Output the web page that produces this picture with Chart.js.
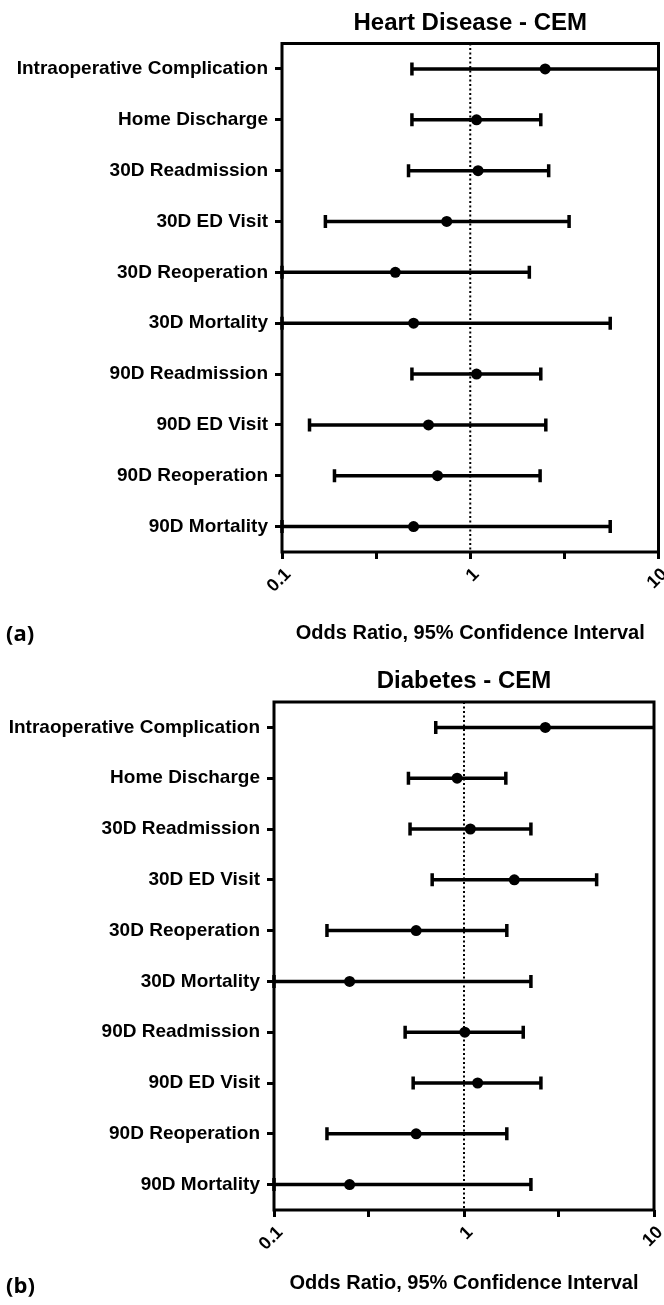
<!DOCTYPE html>
<html>
<head>
<meta charset="utf-8">
<script src="https://cdn.jsdelivr.net/npm/chart.js@4.4.1/dist/chart.umd.min.js"></script>
<style>
  body { margin: 0; background: #fff; }
  #wrap { position: relative; width: 664px; height: 1305px; }
  canvas { position: absolute; left: 0; }
  .panel { position: absolute; left: 6px; font: bold 22px 'Open Sans', sans-serif; line-height: 30px; color: #000; }
</style>
</head>
<body>
<div id="wrap">
  <canvas id="heartChart" width="664" height="655" style="top:0"></canvas>
  <canvas id="diabChart" width="664" height="650" style="top:655px"></canvas>
  <div class="panel" style="top:617px">(a)</div>
  <div class="panel" style="top:1269px">(b)</div>
</div>
<script>
const categories = [
  'Intraoperative Complication', 'Home Discharge', '30D Readmission', '30D ED Visit',
  '30D Reoperation', '30D Mortality', '90D Readmission', '90D ED Visit',
  '90D Reoperation', '90D Mortality'
];

// Heart Disease - CEM (odds ratio, lower / upper 95% CI)
const heartOR    = [2.50, 1.08, 1.10, 0.75, 0.40, 0.50, 1.08, 0.60, 0.67, 0.50];
const heartLower = [0.49, 0.49, 0.47, 0.17, 0.10, 0.10, 0.49, 0.14, 0.19, 0.10];
const heartUpper = [13.0, 2.37, 2.61, 3.35, 2.06, 5.54, 2.37, 2.52, 2.35, 5.54];

// Diabetes - CEM
const diabOR    = [2.68, 0.92, 1.08, 1.84, 0.56, 0.25, 1.01, 1.18, 0.56, 0.25];
const diabLower = [0.71, 0.51, 0.52, 0.68, 0.19, 0.10, 0.49, 0.54, 0.19, 0.10];
const diabUpper = [13.0, 1.66, 2.25, 4.99, 1.68, 2.25, 2.05, 2.54, 1.68, 2.25];

const xTickValues = [0.1, 0.316, 1, 3.16, 10];
const xTickLabels = ['0.1', '', '1', '', '10'];

Chart.defaults.font.family = "'Liberation Sans', Arial, sans-serif";
Chart.defaults.color = '#000';

function forestPlugin(lower, upper) {
  return {
    id: 'forest',
    beforeDatasetsDraw(chart) {
      const {ctx, chartArea: a, scales: {x, y}} = chart;
      ctx.save();
      ctx.strokeStyle = '#000';
      // dotted line at OR = 1
      ctx.lineWidth = 2;
      ctx.setLineDash([2, 2.5]);
      const x1 = x.getPixelForValue(1);
      ctx.beginPath();
      ctx.moveTo(x1, a.top);
      ctx.lineTo(x1, a.bottom);
      ctx.stroke();
      ctx.setLineDash([]);
      // confidence intervals
      ctx.lineWidth = 3.5;
      lower.forEach((lo, i) => {
        const hi = upper[i];
        const yy = y.getPixelForValue(i);
        const xl = x.getPixelForValue(Math.max(lo, x.min));
        const xr = x.getPixelForValue(Math.min(hi, x.max));
        ctx.beginPath();
        ctx.moveTo(xl, yy);
        ctx.lineTo(xr, yy);
        if (lo >= x.min) { ctx.moveTo(xl, yy - 6.5); ctx.lineTo(xl, yy + 6.5); }
        if (hi <= x.max) { ctx.moveTo(xr, yy - 6.5); ctx.lineTo(xr, yy + 6.5); }
        ctx.stroke();
      });
      ctx.restore();
    },
    afterDatasetsDraw(chart) {
      const {ctx, chartArea: a} = chart;
      ctx.save();
      ctx.lineWidth = 3;
      ctx.strokeStyle = '#000';
      ctx.strokeRect(a.left, a.top, a.right - a.left, a.bottom - a.top);
      ctx.restore();
    }
  };
}

function makeForest(id, title, or, lower, upper, lay) {
  const ctx = document.getElementById(id).getContext('2d');
  return new Chart(ctx, {
    type: 'scatter',
    data: {
      datasets: [{
        data: categories.map((c, i) => ({x: or[i], y: c})),
        backgroundColor: '#000',
        borderColor: '#000',
        pointRadius: 5.5,
        pointHoverRadius: 5.5,
        borderWidth: 0
      }]
    },
    options: {
      responsive: false,
      animation: false,
      layout: { padding: { left: 0, right: lay.right, top: 0, bottom: 0 } },
      plugins: {
        legend: { display: false },
        tooltip: { enabled: false },
        title: {
          display: true,
          fullSize: false,
          text: title,
          color: '#000',
          font: { size: 24, weight: 'bold' },
          padding: { top: lay.titleTop, bottom: lay.titleBottom }
        }
      },
      scales: {
        x: {
          type: 'logarithmic',
          min: 0.1,
          max: 10,
          afterBuildTicks: s => { s.ticks = xTickValues.map(v => ({value: v})); },
          afterFit: s => { s.height = lay.xHeight; s.paddingLeft = 0; s.paddingRight = 0; },
          grid: { drawOnChartArea: false, drawTicks: true, tickLength: 7, tickWidth: 3, tickColor: '#000' },
          border: { display: false },
          ticks: {
            autoSkip: false,
            minRotation: 45,
            maxRotation: 45,
            padding: 5,
            labelOffset: 6,
            color: '#000',
            font: { size: 18, weight: 'bold' },
            callback: (v, i) => xTickLabels[i]
          },
          title: {
            display: true,
            text: 'Odds Ratio, 95% Confidence Interval',
            color: '#000',
            font: { size: 20, weight: 'bold' },
            padding: { top: 0, bottom: lay.axisTitleBottom }
          }
        },
        y: {
          type: 'category',
          labels: categories,
          offset: true,
          afterFit: s => { s.width = lay.yWidth; },
          grid: { drawOnChartArea: false, offset: false, tickLength: 7, tickWidth: 3, tickColor: '#000' },
          border: { display: false },
          ticks: { autoSkip: false, padding: 7, color: '#000', font: { size: 19, weight: 'bold' } }
        }
      }
    },
    plugins: [forestPlugin(lower, upper)]
  });
}

makeForest('heartChart', 'Heart Disease - CEM', heartOR, heartLower, heartUpper,
  { right: 2, titleTop: 8.6, titleBottom: 6.1, xHeight: 103, axisTitleBottom: 10, yWidth: 282 });
makeForest('diabChart', 'Diabetes - CEM', diabOR, diabLower, diabUpper,
  { right: 10, titleTop: 11.6, titleBottom: 6.6, xHeight: 95, axisTitleBottom: 10, yWidth: 274 });
</script>
</body>
</html>
